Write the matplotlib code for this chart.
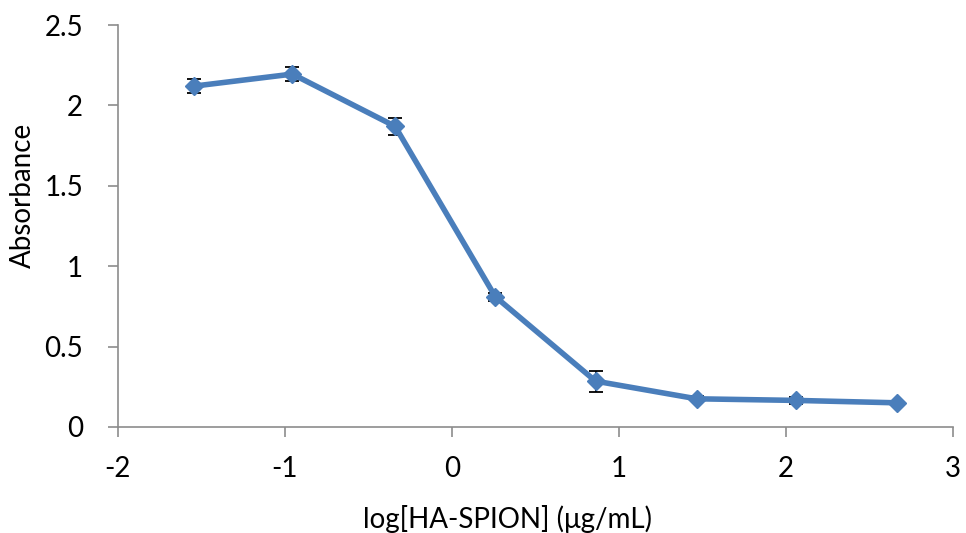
import matplotlib
matplotlib.use('Agg')
import matplotlib.pyplot as plt

# log concentration vs absorbance
log_conc = [-1.545, -0.955, -0.34, 0.26, 0.86, 1.465, 2.06, 2.665]
absorbance = [2.12, 2.195, 1.87, 0.81, 0.285, 0.175, 0.165, 0.15]
err = [0.045, 0.045, 0.052, 0.025, 0.065, 0.015, 0.02, 0.0]

x_ticks = [-2, -1, 0, 1, 2, 3]
y_ticks = [0, 0.5, 1, 1.5, 2, 2.5]
y_tick_labels = ['0', '0.5', '1', '1.5', '2', '2.5']

plt.rcParams['font.family'] = ['Lato', 'DejaVu Sans']

fig = plt.figure(figsize=(9.66, 5.33), dpi=100)
ax = fig.add_axes([0.122, 0.199, 0.8645, 0.754])

ax.errorbar(log_conc, absorbance, yerr=err, fmt='none', ecolor='black',
            elinewidth=1.3, capsize=5, capthick=1.3, zorder=2)
ax.plot(log_conc, absorbance, color='#4A7EBB', linewidth=4,
        marker='D', markersize=9, zorder=3)

ax.set_xlim(-2, 3)
ax.set_ylim(0, 2.5)
ax.set_xticks(x_ticks)
ax.set_xticklabels([str(t) for t in x_ticks])
ax.set_yticks(y_ticks)
ax.set_yticklabels(y_tick_labels)

for side in ['top', 'right']:
    ax.spines[side].set_visible(False)
for side in ['left', 'bottom']:
    ax.spines[side].set_color('#8C8C8C')
    ax.spines[side].set_linewidth(1.2)

ax.tick_params(axis='both', direction='out', length=7, width=1.2,
               color='#8C8C8C', labelsize=20)
ax.tick_params(axis='x', pad=14)
ax.tick_params(axis='y', pad=18)

ax.set_xlabel('log[HA-SPION] (\u03bcg/mL)', fontsize=20)
ax.set_ylabel('Absorbance', fontsize=20)
ax.xaxis.set_label_coords(0.466, -0.195)
ax.yaxis.set_label_coords(-0.098, 0.577)

fig.savefig('out.png', dpi=100)
